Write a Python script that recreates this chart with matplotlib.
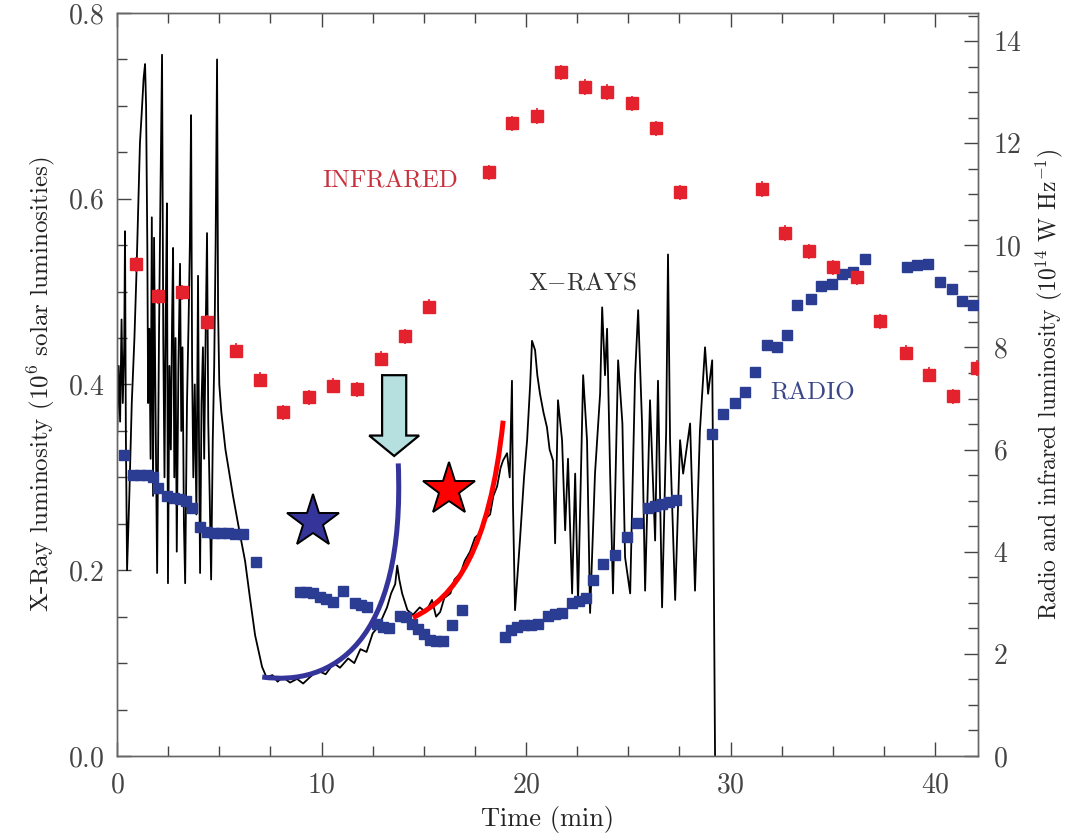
import numpy as np
import matplotlib
matplotlib.use('Agg')
import matplotlib.pyplot as plt
from matplotlib.path import Path
from matplotlib.patches import PathPatch, Polygon
from matplotlib.ticker import MultipleLocator

plt.rcParams['font.family'] = ['cmr10', 'DejaVu Serif']
plt.rcParams['mathtext.fontset'] = 'cm'
plt.rcParams['axes.formatter.use_mathtext'] = True

# X-ray light curve (time in min, 10^6 solar luminosities)
xray_t = [0.00, 0.08, 0.15, 0.22, 0.28, 0.35, 0.39, 0.43, 0.49, 0.60, 0.72, 0.85, 0.95, 1.05, 1.12, 1.20,
          1.30, 1.37, 1.42, 1.48, 1.52, 1.58, 1.64, 1.70, 1.76, 1.81, 1.87, 1.96, 2.05, 2.12, 2.20, 2.26,
          2.32, 2.38, 2.44, 2.49, 2.56, 2.63, 2.69, 2.74, 2.80, 2.86, 2.92, 3.00, 3.08, 3.14, 3.20, 3.27,
          3.33, 3.42, 3.50, 3.56, 3.62, 3.67, 3.73, 3.80, 3.88, 3.96, 4.01, 4.06, 4.13, 4.20, 4.26, 4.33,
          4.40, 4.46, 4.53, 4.60, 4.68, 4.75, 4.82, 4.89, 4.94, 5.00, 5.10, 5.30, 5.67, 6.00, 6.26, 6.50,
          6.75, 7.09, 7.30, 7.60, 7.85, 8.10, 8.46, 8.80, 9.10, 9.44, 9.80, 10.20, 10.60, 10.90, 11.30, 11.60,
          11.90, 12.20, 12.50, 12.80, 13.00, 13.20, 13.40, 13.60, 13.70, 13.80, 13.94, 14.20, 14.47, 14.80, 15.10, 15.40,
          15.60, 15.80, 16.00, 16.30, 16.50, 16.80, 17.00, 17.26, 17.50, 17.75, 18.00, 18.24, 18.40, 18.58, 18.75, 18.87,
          19.07, 19.20, 19.31, 19.36, 19.46, 19.60, 19.70, 19.90, 20.05, 20.20, 20.29, 20.44, 20.55, 20.68, 20.85, 21.02,
          21.15, 21.32, 21.42, 21.56, 21.76, 21.91, 22.05, 22.25, 22.40, 22.54, 22.74, 22.79, 22.98, 23.13, 23.37, 23.62,
          23.72, 23.86, 23.96, 24.11, 24.25, 24.50, 24.71, 24.84, 25.09, 25.33, 25.48, 25.67, 25.82, 26.06, 26.31, 26.45,
          26.65, 26.85, 26.94, 27.04, 27.29, 27.53, 27.68, 28.02, 28.26, 28.50, 28.75, 28.90, 29.10, 29.14, 29.24]
xray_v = [0.34, 0.42, 0.36, 0.47, 0.38, 0.44, 0.565, 0.35, 0.20, 0.28, 0.38, 0.45, 0.52, 0.60, 0.66, 0.69,
          0.73, 0.745, 0.70, 0.55, 0.38, 0.46, 0.32, 0.58, 0.28, 0.558, 0.40, 0.197, 0.45, 0.60, 0.755, 0.45,
          0.30, 0.48, 0.595, 0.186, 0.42, 0.33, 0.47, 0.547, 0.30, 0.45, 0.22, 0.42, 0.53, 0.35, 0.44, 0.25,
          0.186, 0.38, 0.47, 0.55, 0.69, 0.42, 0.30, 0.40, 0.26, 0.517, 0.33, 0.197, 0.38, 0.44, 0.32, 0.45,
          0.563, 0.36, 0.28, 0.19, 0.34, 0.42, 0.55, 0.75, 0.48, 0.40, 0.37, 0.33, 0.28, 0.24, 0.21, 0.17,
          0.13, 0.096, 0.085, 0.087, 0.080, 0.085, 0.079, 0.083, 0.078, 0.085, 0.092, 0.088, 0.100, 0.095, 0.105, 0.100,
          0.115, 0.112, 0.132, 0.140, 0.150, 0.160, 0.175, 0.185, 0.205, 0.190, 0.175, 0.157, 0.152, 0.160, 0.155, 0.168,
          0.150, 0.155, 0.170, 0.175, 0.190, 0.197, 0.210, 0.220, 0.235, 0.240, 0.255, 0.260, 0.280, 0.290, 0.310, 0.318,
          0.326, 0.300, 0.404, 0.270, 0.157, 0.200, 0.232, 0.300, 0.340, 0.400, 0.447, 0.437, 0.410, 0.390, 0.370, 0.354,
          0.330, 0.318, 0.229, 0.383, 0.340, 0.243, 0.320, 0.175, 0.304, 0.165, 0.358, 0.410, 0.340, 0.154, 0.304, 0.390,
          0.483, 0.410, 0.460, 0.304, 0.175, 0.426, 0.358, 0.214, 0.175, 0.410, 0.480, 0.358, 0.178, 0.383, 0.232, 0.404,
          0.160, 0.350, 0.540, 0.340, 0.168, 0.340, 0.304, 0.358, 0.178, 0.350, 0.440, 0.390, 0.426, 0.320, 0.000]

# infrared (10^14 W/Hz)
ir_t = [0.93, 2.00, 3.18, 4.40, 5.82, 6.99, 8.11, 9.39, 10.56, 11.74, 12.90, 14.08, 15.26,
        18.20, 19.31, 20.54, 21.71, 22.89, 23.96, 25.18, 26.36, 27.53,
        31.54, 32.66, 33.84, 35.01, 36.19, 37.31, 38.58, 39.71, 40.88, 42.05]
ir_v = [9.63, 9.00, 9.08, 8.49, 7.94, 7.37, 6.73, 7.02, 7.25, 7.18, 7.78, 8.22, 8.80,
        11.43, 12.39, 12.53, 13.39, 13.10, 13.00, 12.78, 12.29, 11.04,
        11.10, 10.24, 9.88, 9.57, 9.37, 8.51, 7.90, 7.47, 7.04, 7.60]
ir_err = [0.15] * len(ir_t)

# radio (10^14 W/Hz)
radio_t = [0.34, 0.78, 1.12, 1.47, 1.76, 2.00, 2.44, 2.79, 3.08, 3.37, 3.67, 4.06, 4.40, 4.74, 5.09, 5.43,
           5.77, 6.16, 6.80,
           8.95, 9.24, 9.58, 9.93, 10.22, 10.56, 11.05, 11.64, 11.93, 12.22, 12.71, 13.01, 13.30, 13.84, 14.13,
           14.43, 14.72, 15.01, 15.31, 15.60, 15.94, 16.38, 16.87,
           18.97, 19.27, 19.56, 19.90, 20.24, 20.59, 21.08, 21.42, 21.76, 22.25, 22.59, 22.93, 23.28, 23.77,
           24.35, 24.94, 25.43, 25.97, 26.31, 26.65, 26.99, 27.33,
           29.10, 29.63, 30.22, 30.71, 31.20, 31.78, 32.27, 32.76, 33.25, 33.94, 34.43, 34.96, 35.45, 35.99,
           36.58, 38.63, 39.12, 39.66, 40.24, 40.83, 41.32, 41.86]
radio_v = [5.90, 5.51, 5.51, 5.51, 5.47, 5.25, 5.10, 5.06, 5.04, 5.00, 4.86, 4.49, 4.39, 4.37, 4.37, 4.37,
           4.35, 4.35, 3.80,
           3.22, 3.22, 3.20, 3.12, 3.08, 3.02, 3.24, 3.00, 2.96, 2.92, 2.59, 2.53, 2.51, 2.75, 2.73,
           2.59, 2.49, 2.39, 2.27, 2.25, 2.25, 2.57, 2.86,
           2.33, 2.47, 2.53, 2.57, 2.57, 2.59, 2.75, 2.78, 2.80, 3.00, 3.04, 3.10, 3.45, 3.75,
           3.94, 4.29, 4.57, 4.86, 4.90, 4.94, 4.98, 5.02,
           6.31, 6.69, 6.92, 7.12, 7.51, 8.04, 8.00, 8.25, 8.84, 8.94, 9.20, 9.24, 9.43, 9.47,
           9.73, 9.57, 9.61, 9.63, 9.29, 9.14, 8.90, 8.84]

# overlaid sketch: blue and red curves (bezier control points, x-ray units), stars, arrow
blue_curve = [(7.1, 0.085), (10.5, 0.075), (14.1, 0.12), (13.75, 0.315)]
red_curve = [(14.47, 0.149), (16.5, 0.17), (18.2, 0.22), (18.88, 0.361)]
blue_star = (9.58, 0.252)
red_star = (16.23, 0.286)
arrow_x, arrow_top, arrow_neck, arrow_tip = 13.55, 0.41, 0.345, 0.323

IR_RED = '#e3222e'
RADIO_BLUE = '#2b3d92'
GRAY = '#444444'


def bezier(ax, pts, color, trans):
    path = Path(pts, [Path.MOVETO, Path.CURVE4, Path.CURVE4, Path.CURVE4])
    ax.add_patch(PathPatch(path, facecolor='none', edgecolor=color, lw=3.6,
                           capstyle='butt', transform=trans, zorder=6))


def main():
    fig = plt.figure(figsize=(10.66, 8.38), dpi=100)
    ax = fig.add_axes([0.1098, 0.0979, 0.8077, 0.8866])
    ax2 = ax.twinx()

    ax.plot(xray_t, xray_v, color='black', lw=1.3, zorder=2)

    ax2.errorbar(ir_t, ir_v, yerr=ir_err, fmt='s', ms=8, color=IR_RED, mec=IR_RED,
                 elinewidth=1.2, capsize=0, zorder=3)
    ax2.plot(radio_t, radio_v, 's', ms=7.5, color=RADIO_BLUE, zorder=3)

    ax.set_xlim(0, 42.1)
    ax.set_ylim(0, 0.8)
    ax2.set_ylim(0, 14.55)

    ax.xaxis.set_major_locator(MultipleLocator(10))
    ax.xaxis.set_minor_locator(MultipleLocator(2.5))
    ax.yaxis.set_major_locator(MultipleLocator(0.2))
    ax.yaxis.set_minor_locator(MultipleLocator(0.05))
    ax2.yaxis.set_major_locator(MultipleLocator(2))
    ax2.yaxis.set_minor_locator(MultipleLocator(0.5))

    ax.tick_params(axis='x', which='both', direction='in', top=True, colors=GRAY, labelsize=20, pad=12)
    ax.tick_params(axis='y', which='both', direction='in', colors=GRAY, labelsize=20, pad=9)
    ax.tick_params(which='major', length=10, width=1)
    ax.tick_params(which='minor', length=7, width=1)
    ax2.tick_params(axis='y', which='both', direction='in', colors=GRAY, labelsize=20, pad=11)
    ax2.tick_params(which='major', length=10, width=1)
    ax2.tick_params(which='minor', length=7, width=1)
    for a in (ax, ax2):
        for s in a.spines.values():
            s.set_color('#666666')
            s.set_linewidth(1.0)

    ax.set_xlabel('Time (min)', fontsize=19, labelpad=5, color='#222222')
    ax.set_ylabel(r'X-Ray luminosity (10$^6$ solar luminosities)', fontsize=18, labelpad=8, color='#222222')
    ax2.set_ylabel(r'Radio and infrared luminosity (10$^{14}$ W Hz$^{-1}$)', fontsize=17,
                   labelpad=8, color='#222222')

    ax.text(13.35, 0.619, 'INFRARED', color='#c8323f', fontsize=18, ha='center', va='center')
    ax.text(22.74, 0.509, r'X$-$RAYS', color='#333333', fontsize=18, ha='center', va='center')
    ax.text(34.0, 0.390, 'RADIO', color='#3a4787', fontsize=18, ha='center', va='center')

    # hand drawn overlay, in x-ray units
    bezier(ax2, blue_curve, '#34349a', ax.transData)
    bezier(ax2, red_curve, '#ff0000', ax.transData)

    hw, hh = 0.59, 1.22
    arrow = Polygon([(arrow_x - hw, arrow_top), (arrow_x + hw, arrow_top), (arrow_x + hw, arrow_neck),
                     (arrow_x + hh, arrow_neck), (arrow_x, arrow_tip), (arrow_x - hh, arrow_neck),
                     (arrow_x - hw, arrow_neck)], closed=True, facecolor='#b6dfe0',
                    edgecolor='black', lw=1.6, transform=ax.transData, zorder=7)
    ax2.add_patch(arrow)

    ax2.plot([blue_star[0]], [blue_star[1]], marker='*', ms=40, mfc='#34349a', mec='black', mew=1.4,
             transform=ax.transData, zorder=8)
    ax2.plot([red_star[0]], [red_star[1]], marker='*', ms=40, mfc='#ff0000', mec='black', mew=1.4,
             transform=ax.transData, zorder=8)

    fig.savefig('out.png', dpi=100)


if __name__ == '__main__':
    main()
